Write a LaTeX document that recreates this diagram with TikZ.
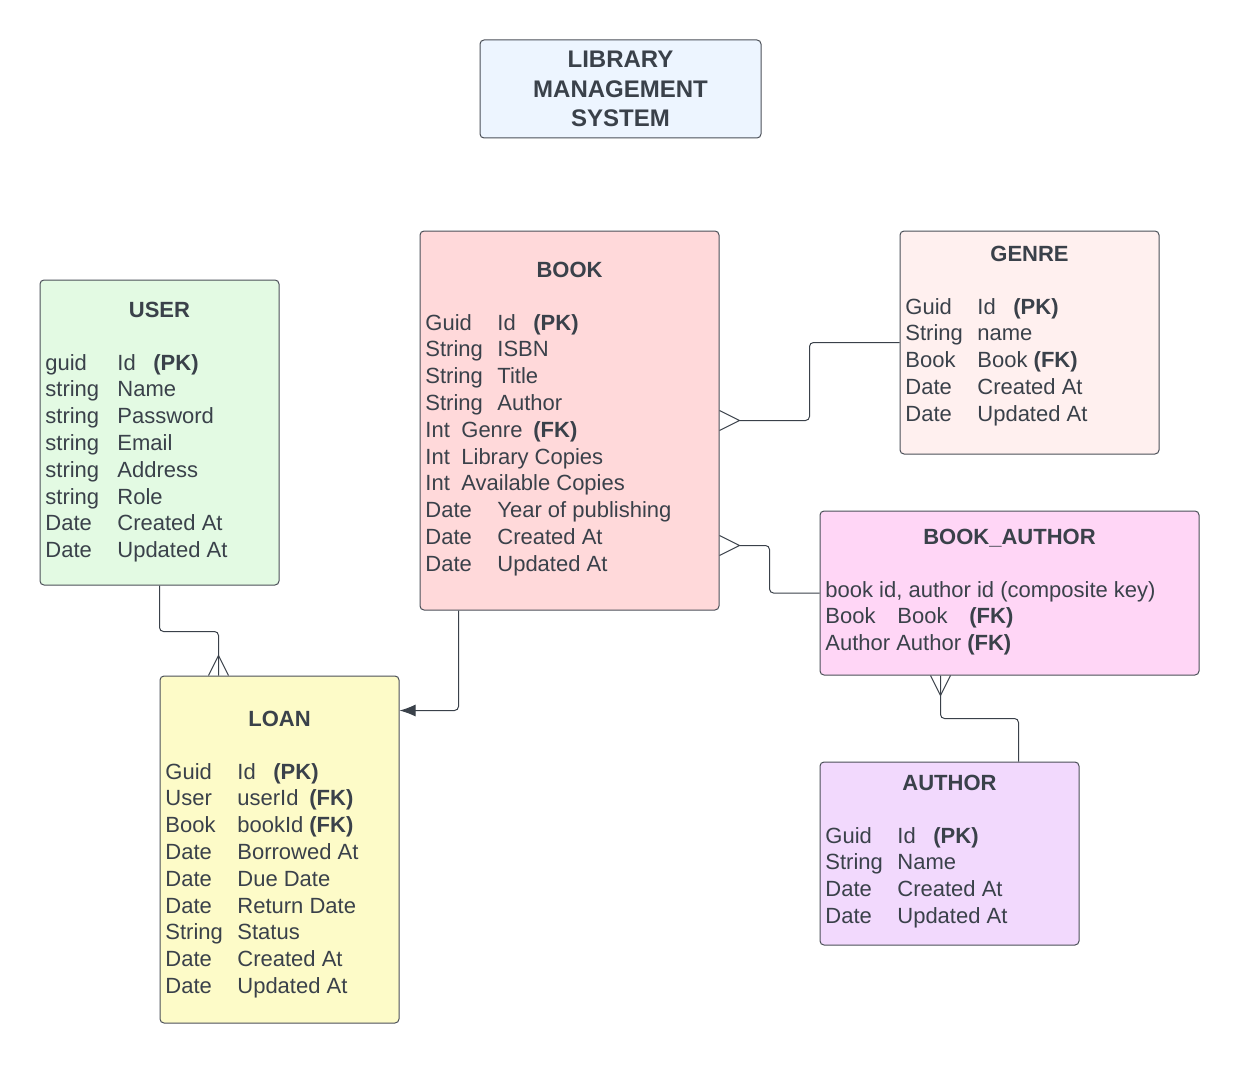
\documentclass[tikz,border=0pt]{standalone}
\usepackage{fontspec}
\setmainfont{Liberation Sans}
\usetikzlibrary{calc}
\usetikzlibrary{fit}
\usetikzlibrary{arrows.meta}
\definecolor{ink}{HTML}{3A414A}
\definecolor{edgegray}{HTML}{4B5058}
\definecolor{titlefill}{HTML}{EDF5FF}
\definecolor{userfill}{HTML}{E3FAE3}
\definecolor{bookfill}{HTML}{FFD9DA}
\definecolor{genrefill}{HTML}{FFF0EF}
\definecolor{bafill}{HTML}{FFD6F6}
\definecolor{loanfill}{HTML}{FDFBC8}
\definecolor{authorfill}{HTML}{F2D9FD}
\newcommand{\fieldfont}{\fontsize{11}{13.4}\selectfont}
\newcommand{\pk}{\textbf{(PK)}}
\newcommand{\fk}{\textbf{(FK)}}
\newcommand{\entitybox}[6]{\node[entity, fill=#2, fit={(#3,#4) (#5,#6)}] (#1) {};}
\newcommand{\crowh}[2]{\draw[conn, sharp corners] ($(#1)+(0,10)$) -- ($(#1)+(#2,0)$) -- ($(#1)+(0,-10)$);}
\newcommand{\crowv}[2]{\draw[conn, sharp corners] ($(#1)+(10,0)$) -- ($(#1)+(0,#2)$) -- ($(#1)+(-10,0)$);}
\tikzset{
  entity/.style={draw=edgegray, line width=0.5pt, rounded corners=2pt, inner sep=0pt},
  etitle/.style={anchor=base, inner sep=0pt, text=ink, font=\bfseries\fieldfont},
  fields/.style={anchor=base west, inner sep=0pt, text=ink, font=\fieldfont},
  conn/.style={draw=ink, line width=0.5pt, rounded corners=2pt}
}
\begin{document}
\begin{tikzpicture}[x=0.5pt, y=-0.5pt]
    \useasboundingbox (0,0) rectangle (1240,1064);

    % title
    \entitybox{title}{titlefill}{480}{40}{761}{138}
    \node[inner sep=0pt, text=ink, align=center, font=\bfseries\fontsize{12}{14.75}\selectfont] (title-text) at (title.center) {LIBRARY\\MANAGEMENT\\SYSTEM};

    % user
    \entitybox{user}{userfill}{40}{280}{279}{585}
    \node[etitle] (user-title) at (user.north |- 0,317) {USER};
    \node[fields] (user-fields) at (45,370) {\begin{tabular}[t]{@{}p{36pt}@{}l@{}}
      guid & \makebox[18pt][l]{Id}\pk\\
      string & Name\\
      string & Password\\
      string & Email\\
      string & Address\\
      string & Role\\
      Date & Created At\\
      Date & Updated At
    \end{tabular}};

    % book
    \entitybox{book}{bookfill}{420}{231}{719}{610}
    \node[etitle] (book-title) at (book.north |- 0,277) {BOOK};
    \node[fields] (book-fields) at (425,330) {\begin{tabular}[t]{@{}p{36pt}@{}l@{}}
      Guid & \makebox[18pt][l]{Id}\pk\\
      String & ISBN\\
      String & Title\\
      String & Author\\
      \multicolumn{2}{@{}l@{}}{\makebox[18pt][l]{Int}\makebox[36pt][l]{Genre}\fk}\\
      \multicolumn{2}{@{}l@{}}{\makebox[18pt][l]{Int}Library Copies}\\
      \multicolumn{2}{@{}l@{}}{\makebox[18pt][l]{Int}Available Copies}\\
      Date & Year of publishing\\
      Date & Created At\\
      Date & Updated At
    \end{tabular}};

    % genre
    \entitybox{genre}{genrefill}{900}{231}{1159}{454}
    \node[etitle] (genre-title) at (genre.north |- 0,261) {GENRE};
    \node[fields] (genre-fields) at (905,314) {\begin{tabular}[t]{@{}p{36pt}@{}l@{}}
      Guid & \makebox[18pt][l]{Id}\pk\\
      String & name\\
      Book & Book \fk\\
      Date & Created At\\
      Date & Updated At
    \end{tabular}};

    % book_author
    \entitybox{ba}{bafill}{820}{511}{1199}{675}
    \node[etitle] (ba-title) at (ba.north |- 0,544) {BOOK\_AUTHOR};
    \node[fields] (ba-fields) at (825,597) {\begin{tabular}[t]{@{}l@{}}
      book id, author id (composite key)\\
      \makebox[36pt][l]{Book}\makebox[36pt][l]{Book}\fk\\
      Author Author \fk
    \end{tabular}};

    % loan
    \entitybox{loan}{loanfill}{160}{676}{399}{1023}
    \node[etitle] (loan-title) at (loan.north |- 0,726) {LOAN};
    \node[fields] (loan-fields) at (165,779) {\begin{tabular}[t]{@{}p{36pt}@{}l@{}}
      Guid & \makebox[18pt][l]{Id}\pk\\
      User & \makebox[36pt][l]{userId}\fk\\
      Book & \makebox[36pt][l]{bookId}\fk\\
      Date & Borrowed At\\
      Date & Due Date\\
      Date & Return Date\\
      String & Status\\
      Date & Created At\\
      Date & Updated At
    \end{tabular}};

    % author
    \entitybox{author}{authorfill}{820}{762}{1079}{945}
    \node[etitle] (author-title) at (author.north |- 0,790) {AUTHOR};
    \node[fields] (author-fields) at (825,843) {\begin{tabular}[t]{@{}p{36pt}@{}l@{}}
      Guid & \makebox[18pt][l]{Id}\pk\\
      String & Name\\
      Date & Created At\\
      Date & Updated At
    \end{tabular}};

    % relations
    \coordinate (bg) at (book.east);
    \coordinate (bgtip) at ($(bg)+(20,0)$);
    \crowh{bg}{20}
    \draw[conn] (bgtip) -- ++(70,0) |- (genre.west);

    \coordinate (bb) at ($(book.east)+(0,125)$);
    \coordinate (bbtip) at ($(bb)+(20,0)$);
    \crowh{bb}{20}
    \draw[conn] (bbtip) -- ++(30,0) |- (ba.west);

    \coordinate (lu) at ($(loan.north west)+(59,0)$);
    \crowv{lu}{-20}
    \draw[conn] (user.south) -- ++(0,46) -| (lu);

    \coordinate (bl) at ($(book.south west)+(39,0)$);
    \coordinate (le) at ($(loan.north east)+(0,35)$);
    \draw[conn, -{Latex[length=8pt,width=6pt]}] (bl) |- (le);

    \coordinate (bab) at ($(ba.south west)+(121,0)$);
    \coordinate (at) at ($(author.north west)+(199,0)$);
    \crowv{bab}{20}
    \draw[conn] (bab) -- ++(0,43) -| (at);

\end{tikzpicture}
\end{document}
